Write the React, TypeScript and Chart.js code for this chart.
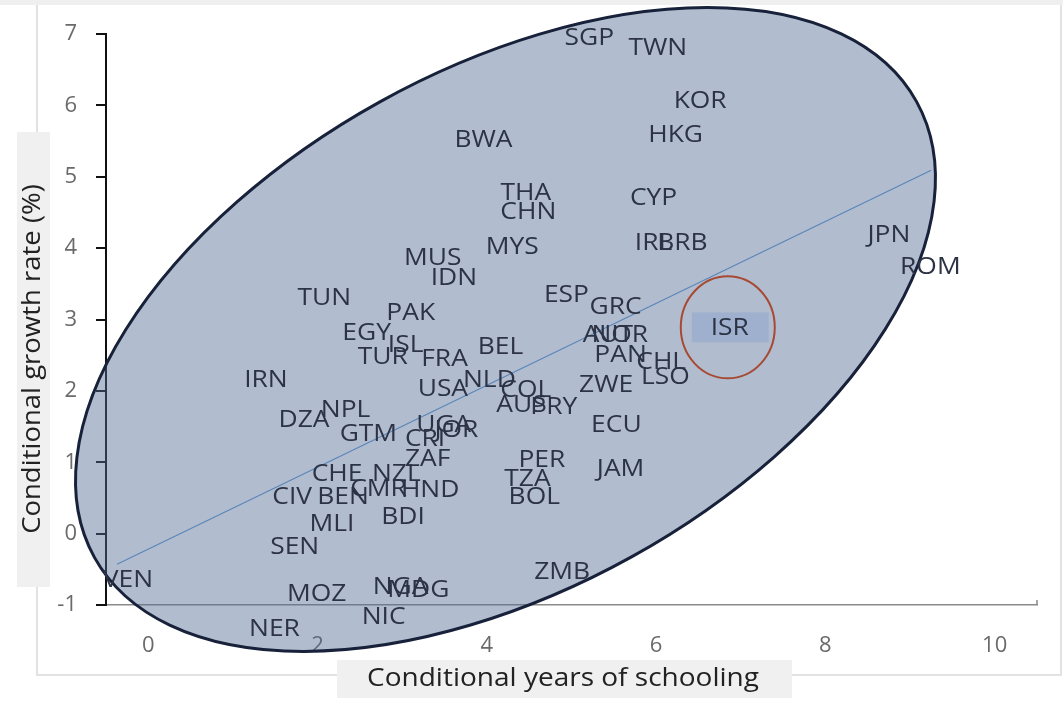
import { useEffect, useRef } from "react";
import { Chart, registerables } from "chart.js";

Chart.register(...registerables);

// ---- data ----
const countries = [
  "SGP", "TWN", "KOR", "HKG", "BWA", "THA", "CHN", "CYP", "IRL", "BRB",
  "MYS", "MUS", "IDN", "JPN", "ROM", "TUN", "PAK", "ESP", "GRC", "EGY",
  "ISL", "TUR", "FRA", "BEL", "AUT", "NOR", "ISR", "PAN", "CHL", "LSO",
  "IRN", "USA", "NLD", "COL", "ZWE", "AUS", "PRY", "ECU", "DZA", "NPL",
  "GTM", "UGA", "JOR", "CRI", "ZAF", "PER", "JAM", "TZA", "BOL", "CHE",
  "NZL", "CMR", "HND", "CIV", "BEN", "MLI", "BDI", "SEN", "VEN", "ZMB",
  "MOZ", "NGA", "MDG", "NIC", "NER",
];
const schooling = [
  5.21, 6.02, 6.52, 6.23, 3.96, 4.46, 4.49, 5.97, 5.97, 6.31,
  4.30, 3.36, 3.61, 8.75, 9.24, 2.08, 3.10, 4.94, 5.52, 2.58,
  3.04, 2.77, 3.50, 4.16, 5.43, 5.57, 6.87, 5.58, 6.06, 6.11,
  1.39, 3.48, 4.03, 4.46, 5.41, 4.41, 4.79, 5.53, 1.84, 2.33,
  2.60, 3.49, 3.64, 3.27, 3.30, 4.65, 5.58, 4.48, 4.56, 2.23,
  2.93, 2.72, 3.33, 1.70, 2.30, 2.17, 3.01, 1.73, -0.24, 4.89,
  1.99, 2.98, 3.19, 2.78, 1.49,
];
const growth = [
  6.95, 6.82, 6.08, 5.60, 5.53, 4.78, 4.52, 4.72, 4.09, 4.09,
  4.03, 3.87, 3.60, 4.19, 3.75, 3.32, 3.10, 3.36, 3.18, 2.82,
  2.66, 2.48, 2.46, 2.62, 2.79, 2.79, 2.89, 2.51, 2.42, 2.20,
  2.17, 2.04, 2.16, 2.03, 2.09, 1.81, 1.79, 1.54, 1.60, 1.74,
  1.41, 1.54, 1.46, 1.34, 1.06, 1.04, 0.92, 0.78, 0.53, 0.85,
  0.85, 0.64, 0.62, 0.53, 0.52, 0.15, 0.24, -0.18, -0.64, -0.52,
  -0.84, -0.74, -0.78, -1.15, -1.33,
];
const trendX = [-0.37, 9.25];
const trendY = [-0.43, 5.09];
const xTickValues = [0, 2, 4, 6, 8, 10];
const yTickValues = [-1, 0, 1, 2, 3, 4, 5, 6, 7];
const highlighted = "ISR";
// ellipse centre in data units
const ellipseCenter = { x: 4.22, y: 2.86 };

const FONT = '"Open Sans", "Noto Sans", sans-serif';

function stretchedText(ctx: CanvasRenderingContext2D, text: string, x: number, y: number, sx: number) {
  ctx.save();
  ctx.translate(x, y);
  ctx.scale(sx, 1);
  ctx.fillText(text, 0, 0);
  ctx.restore();
}

const decorPlugin = {
  id: "decor",
  beforeDraw(chart: any) {
    const ctx = chart.ctx;
    ctx.save();
    // outer frame
    ctx.fillStyle = "#efefef";
    ctx.fillRect(0, 0, chart.width, 5);
    ctx.strokeStyle = "#e2e2e2";
    ctx.lineWidth = 2;
    ctx.beginPath();
    ctx.moveTo(37, 5);
    ctx.lineTo(37, 675);
    ctx.lineTo(1061, 675);
    ctx.lineTo(1061, 5);
    ctx.stroke();
    // axis title boxes
    ctx.fillStyle = "#f0f0f0";
    ctx.fillRect(17, 132, 33, 455);
    ctx.fillRect(337, 660, 455, 38);
    ctx.fillStyle = "#222";
    ctx.font = `25px ${FONT}`;
    ctx.textAlign = "center";
    ctx.textBaseline = "middle";
    stretchedText(ctx, "Conditional years of schooling", 563, 679, 1.12);
    ctx.translate(33, 359);
    ctx.rotate(-Math.PI / 2);
    stretchedText(ctx, "Conditional growth rate (%)", 0, 0, 1.1);
    ctx.restore();
  },
  beforeDatasetsDraw(chart: any) {
    const ctx = chart.ctx;
    const cx = chart.scales.x.getPixelForValue(ellipseCenter.x);
    const cy = chart.scales.y.getPixelForValue(ellipseCenter.y);
    ctx.save();
    ctx.beginPath();
    ctx.ellipse(cx, cy, 470, 260, (-29 * Math.PI) / 180, 0, Math.PI * 2);
    ctx.fillStyle = "rgba(84,106,148,0.45)";
    ctx.fill();
    ctx.lineWidth = 3;
    ctx.strokeStyle = "#17213a";
    ctx.stroke();
    ctx.restore();
  },
  afterDatasetsDraw(chart: any) {
    const ctx = chart.ctx;
    const meta = chart.getDatasetMeta(1);
    const area = chart.chartArea;
    ctx.save();
    // small end tick on the x axis
    ctx.strokeStyle = "#8a8a8a";
    ctx.lineWidth = 1.5;
    ctx.beginPath();
    ctx.moveTo(area.right, area.bottom);
    ctx.lineTo(area.right, area.bottom - 5);
    ctx.stroke();

    ctx.font = `24px ${FONT}`;
    ctx.textAlign = "center";
    ctx.textBaseline = "middle";
    meta.data.forEach((pt: any, i: number) => {
      const name = countries[i];
      if (name === highlighted) {
        ctx.fillStyle = "rgba(125,155,205,0.35)";
        ctx.fillRect(pt.x - 38, pt.y - 15, 77, 30);
      }
      ctx.fillStyle = "#2c3344";
      stretchedText(ctx, name, pt.x, pt.y + 1, 1.1);
      if (name === highlighted) {
        ctx.beginPath();
        ctx.ellipse(pt.x - 2, pt.y, 47, 51, 0, 0, Math.PI * 2);
        ctx.lineWidth = 2;
        ctx.strokeStyle = "#a64a33";
        ctx.stroke();
      }
    });
    ctx.restore();
  },
};

export default function App() {
  const canvasRef = useRef<HTMLCanvasElement | null>(null);

  useEffect(() => {
    document.body.style.margin = "0";
    const canvas = canvasRef.current!;
    const chart = new Chart(canvas, {
      type: "scatter",
      data: {
        datasets: [
          {
            label: "trend",
            data: trendX.map((x, i) => ({ x, y: trendY[i] })),
            showLine: true,
            borderColor: "#5a86b8",
            borderWidth: 1.2,
            pointRadius: 0,
            fill: false,
          },
          {
            label: "countries",
            data: schooling.map((x, i) => ({ x, y: growth[i] })),
            pointRadius: 0,
            pointHoverRadius: 0,
          },
        ],
      },
      options: {
        responsive: false,
        animation: false,
        devicePixelRatio: 1,
        layout: { padding: { top: 34, right: 26, left: 0, bottom: 0 } },
        plugins: {
          legend: { display: false },
          tooltip: { enabled: false },
          title: { display: false },
        },
        events: [],
        scales: {
          x: {
            type: "linear",
            min: -0.5,
            max: 10.5,
            afterBuildTicks: (s: any) => {
              s.ticks = xTickValues.map((v) => ({ value: v }));
            },
            afterFit: (s: any) => {
              s.height = 104;
            },
            grid: { display: false, drawTicks: false, tickLength: 0 },
            border: { display: true, color: "#8a8a8a", width: 1.5 },
            ticks: {
              padding: 28,
              color: "#6a6a6a",
              font: { family: FONT, size: 22 },
              maxRotation: 0,
            },
          },
          y: {
            type: "linear",
            min: -1,
            max: 7,
            afterBuildTicks: (s: any) => {
              s.ticks = yTickValues.map((v) => ({ value: v }));
            },
            afterFit: (s: any) => {
              s.width = 106;
            },
            grid: {
              display: true,
              drawOnChartArea: false,
              drawTicks: true,
              tickLength: 10,
              color: "#111",
              lineWidth: 2,
            },
            border: { display: true, color: "#111", width: 2 },
            ticks: {
              padding: 19,
              color: "#6a6a6a",
              font: { family: FONT, size: 22 },
            },
          },
        },
      },
      plugins: [decorPlugin],
    });
    return () => chart.destroy();
  }, []);

  return (
    <div style={{ width: 1063, height: 709, position: "relative" }}>
      <canvas ref={canvasRef} width={1063} height={709} style={{ display: "block" }} />
    </div>
  );
}
